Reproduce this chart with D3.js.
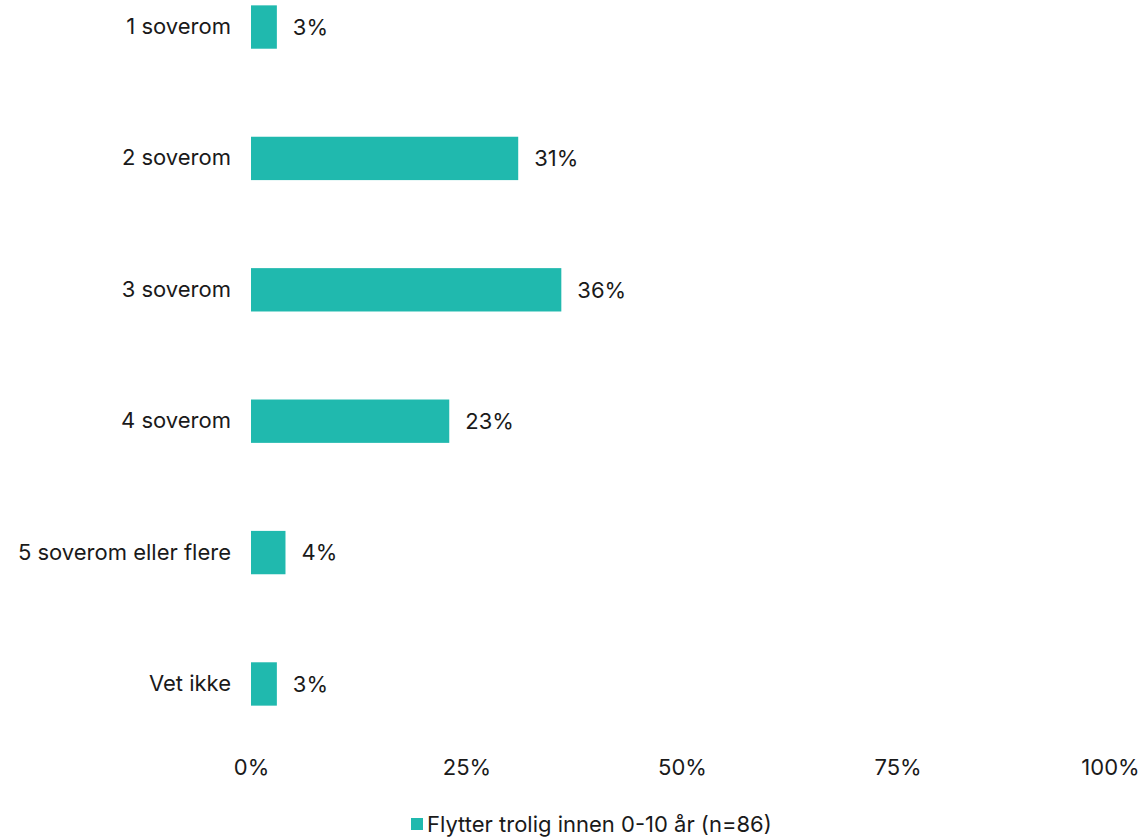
<!DOCTYPE html>
<html>
<head>
<meta charset="utf-8">
<script src="https://cdn.jsdelivr.net/npm/d3@7"></script>
<style>
  html, body { margin: 0; padding: 0; background: #ffffff; }
  svg text { font-family: "Inter", "Noto Sans", sans-serif; fill: #1a1a1a; }
</style>
</head>
<body>
<svg id="chart" width="1143" height="838"></svg>
<script>
// Antall soverom ønsket ved neste flytting
const categories = ["1 soverom", "2 soverom", "3 soverom", "4 soverom", "5 soverom eller flere", "Vet ikke"];
const values = [3, 31, 36, 23, 4, 3];
const tickValues = [0, 25, 50, 75, 100];
const seriesName = "Flytter trolig innen 0-10 år (n=86)";
const barColor = "#20b9ae";
const fontSize = 22;

const svg = d3.select("#chart");

const x = d3.scaleLinear().domain([0, 100]).range([251, 1113]);
const y = d3.scaleBand().domain(categories).range([-38, 749]).paddingInner(0.67).paddingOuter(0.33);

// Bars
svg.append("g").selectAll("rect")
  .data(values)
  .join("rect")
  .attr("x", x(0))
  .attr("y", (d, i) => y(categories[i]))
  .attr("width", d => x(d) - x(0))
  .attr("height", y.bandwidth())
  .attr("fill", barColor);

// Value labels
svg.append("g").selectAll("text")
  .data(values)
  .join("text")
  .attr("x", d => x(d) + 16)
  .attr("y", (d, i) => y(categories[i]) + y.bandwidth() / 2)
  .attr("dy", "0.35em")
  .attr("font-size", fontSize)
  .text(d => d + "%");

// Category axis (labels only)
const yAxis = d3.axisLeft(y).tickSize(0).tickPadding(20);
const gy = svg.append("g").attr("transform", `translate(${x(0)},0)`).call(yAxis);
gy.select(".domain").remove();
gy.selectAll("text").attr("font-size", fontSize).attr("fill", "#1a1a1a");

// Percent axis (labels only)
const xAxis = d3.axisBottom(x).tickValues(tickValues).tickFormat(d => d + "%").tickSize(0).tickPadding(0);
const gx = svg.append("g").attr("transform", "translate(0,760)").call(xAxis);
gx.select(".domain").remove();
gx.selectAll("text").attr("font-size", fontSize).attr("dy", "0.7em").attr("fill", "#1a1a1a");
gx.selectAll(".tick").filter(d => d === 100).select("text").attr("dx", -3);

// Legend
const legend = svg.append("g").attr("transform", "translate(411,818)");
legend.append("rect").attr("width", 12).attr("height", 12).attr("fill", barColor);
legend.append("text").attr("x", 16).attr("y", 6).attr("dy", "0.35em").attr("font-size", fontSize).text(seriesName);
</script>
</body>
</html>
